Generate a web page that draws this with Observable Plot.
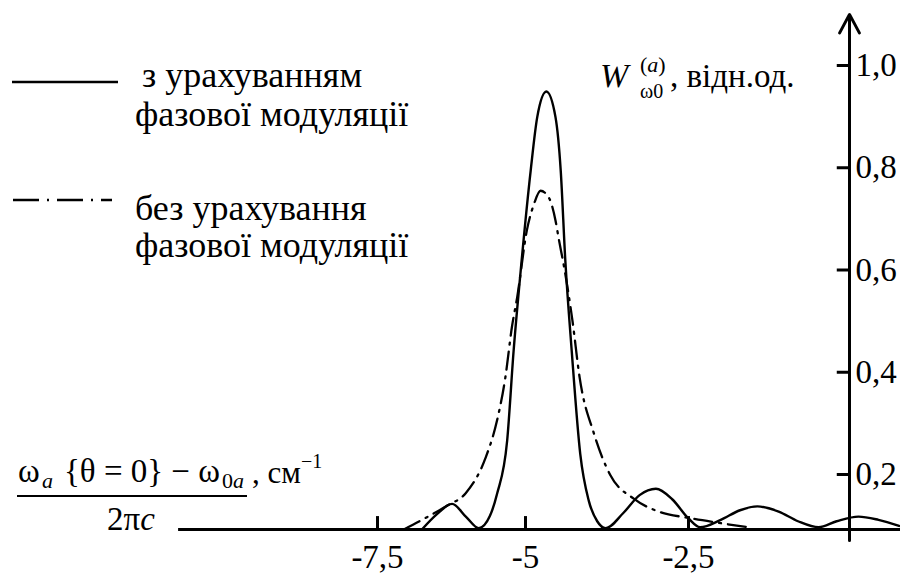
<!DOCTYPE html>
<html>
<head>
<meta charset="utf-8">
<script src="https://cdn.jsdelivr.net/npm/d3@7"></script>
<script src="https://cdn.jsdelivr.net/npm/@observablehq/plot@0.6"></script>
<style>
  html, body { margin: 0; padding: 0; background: #fff; }
  svg { display: block; }
</style>
</head>
<body>
<div id="chart"></div>
<script>
// ---- data ----
const xTicks = [-7.5, -5, -2.5];
const xTickLabels = ["-7,5", "-5", "-2,5"];
const yTicks = [0.2, 0.4, 0.6, 0.8, 1.0];
const yTickLabels = ["0,2", "0,4", "0,6", "0,8", "1,0"];

// with phase modulation (solid)
const solidX = [-6.75, -6.5, -6.24, -6.0, -5.79, -5.6, -5.48, -5.31, -5.2, -5.08, -4.92, -4.82, -4.68, -4.54, -4.46, -4.39, -4.29, -4.16, -4.03, -3.9, -3.77, -3.5, -3.25, -3.0, -2.75, -2.5, -2.32, -2.0, -1.7, -1.43, -1.1, -0.8, -0.48, -0.2, 0.14, 0.45, 0.77];
const solidY = [0.0, 0.055, 0.093, 0.045, 0.005, 0.05, 0.13, 0.266, 0.443, 0.6, 0.795, 0.899, 0.949, 0.899, 0.795, 0.62, 0.44, 0.24, 0.105, 0.03, 0.005, 0.06, 0.125, 0.148, 0.11, 0.04, 0.008, 0.035, 0.07, 0.084, 0.065, 0.03, 0.008, 0.03, 0.047, 0.035, 0.013];

// without phase modulation (dash-dot)
const dashX = [-7.06, -6.75, -6.32, -6.01, -5.68, -5.48, -5.34, -5.23, -5.14, -4.98, -4.87, -4.77, -4.64, -4.54, -4.49, -4.4, -4.28, -4.17, -3.95, -3.7, -3.34, -2.93, -2.52, -2.0, -1.56];
const dashY = [0.0, 0.035, 0.087, 0.132, 0.231, 0.306, 0.39, 0.488, 0.547, 0.677, 0.729, 0.755, 0.741, 0.697, 0.661, 0.6, 0.501, 0.39, 0.28, 0.198, 0.112, 0.063, 0.043, 0.023, 0.008];

const solid = solidX.map((x, i) => ({x, y: solidY[i]}));
const dashed = dashX.map((x, i) => ({x, y: dashY[i]}));

const FONT = "'Liberation Serif', 'Times New Roman', Times, serif";

const chart = Plot.plot({
  width: 900,
  height: 575,
  margin: 0,
  style: {fontFamily: FONT, background: "#fff", color: "#000"},
  x: {type: "linear", domain: [-7.5, -5, -2.5, 0], range: [377, 525, 688, 849], axis: null},
  y: {type: "linear", domain: [0, 0.2, 1.0], range: [529, 474, 65], axis: null},
  marks: [
    Plot.ruleY([0], {x1: -10.86, x2: 0.8, stroke: "#000", strokeWidth: 3}),
    Plot.arrow([0], {x1: 0, x2: 0, y1: -0.04, y2: 1.1, stroke: "#000", strokeWidth: 3, headAngle: 56, headLength: 10.5}),
    Plot.ruleY(yTicks, {y: d => d, x1: -0.19, x2: 0, stroke: "#000", strokeWidth: 3}),
    Plot.ruleX(xTicks, {x: d => d, y1: 0, y2: 0.047, stroke: "#000", strokeWidth: 3}),
    Plot.text(yTicks, {x: 0, y: d => d, text: (d, i) => yTickLabels[i], dx: 6, textAnchor: "start", fontSize: 33, fontFamily: FONT, fill: "#000"}),
    Plot.text(xTicks, {x: d => d, y: 0, text: (d, i) => xTickLabels[i], dy: 28, fontSize: 33, fontFamily: FONT, fill: "#000"}),
    Plot.line(dashed, {x: "x", y: "y", curve: "monotone-x", stroke: "#000", strokeWidth: 2.3, strokeDasharray: "18,7,2,7"}),
    Plot.line(solid, {x: "x", y: "y", curve: "monotone-x", stroke: "#000", strokeWidth: 2.4})
  ]
});

document.getElementById("chart").appendChild(chart);

// ---- annotations: legend and axis titles ----
const svg = d3.select(chart);
const g = svg.append("g").attr("font-family", FONT).attr("fill", "#000").attr("text-anchor", "start");

// legend
g.append("line").attr("x1", 12).attr("x2", 118).attr("y1", 82).attr("y2", 82)
  .attr("stroke", "#000").attr("stroke-width", 2.5);
g.append("text").attr("x", 142).attr("y", 87).attr("font-size", 36).text("з урахуванням");
g.append("text").attr("x", 135).attr("y", 126).attr("font-size", 36).text("фазової модуляції");
g.append("line").attr("x1", 13).attr("x2", 112).attr("y1", 200).attr("y2", 200)
  .attr("stroke", "#000").attr("stroke-width", 2.5).attr("stroke-dasharray", "26,8,2,8");
g.append("text").attr("x", 135).attr("y", 220).attr("font-size", 36).text("без урахування");
g.append("text").attr("x", 135).attr("y", 257).attr("font-size", 36).text("фазової модуляції");

// y-axis title: W_ω0^(a), відн.од.
g.append("text").attr("x", 600).attr("y", 87).attr("font-size", 34).attr("font-style", "italic").text("W");
const sup = g.append("text").attr("x", 640).attr("y", 72).attr("font-size", 22);
sup.append("tspan").text("(");
sup.append("tspan").attr("font-style", "italic").text("a");
sup.append("tspan").text(")");
g.append("text").attr("x", 640).attr("y", 98).attr("font-size", 20).text("ω0");
g.append("text").attr("x", 670).attr("y", 87).attr("font-size", 33).text(", відн.од.");

// x-axis title: (ω_a{θ=0} − ω_0a) / 2πc , см^-1
const num = g.append("text").attr("y", 482).attr("font-size", 33);
num.append("tspan").attr("x", 18).text("ω");
num.append("tspan").attr("x", 42).attr("y", 488).attr("font-size", 22).attr("font-style", "italic").text("a");
num.append("tspan").attr("x", 64).attr("y", 482).text("{θ = 0} − ω");
num.append("tspan").attr("dx", 2).attr("y", 488).attr("font-size", 22).text("0");
num.append("tspan").attr("y", 488).attr("font-size", 22).attr("font-style", "italic").text("a");
g.append("line").attr("x1", 17).attr("x2", 247).attr("y1", 496).attr("y2", 496)
  .attr("stroke", "#000").attr("stroke-width", 2);
const den = g.append("text").attr("x", 107).attr("y", 530).attr("font-size", 33);
den.append("tspan").text("2π");
den.append("tspan").attr("font-style", "italic").text("c");
const unit = g.append("text").attr("x", 252).attr("y", 483).attr("font-size", 31);
unit.append("tspan").text(", см");
unit.append("tspan").attr("y", 468).attr("font-size", 20).text("−1");
</script>
</body>
</html>
